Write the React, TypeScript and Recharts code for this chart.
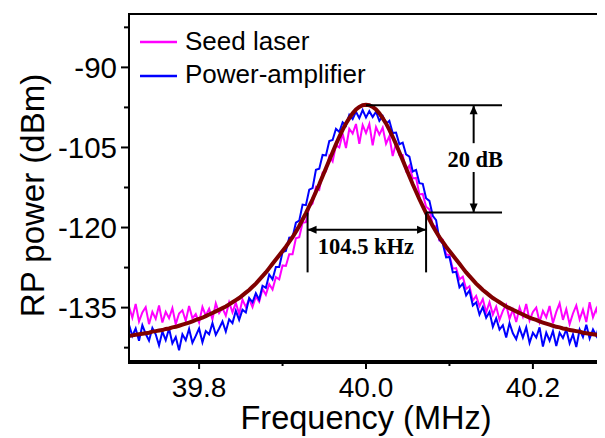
import { LineChart, Line, XAxis, YAxis, ReferenceLine, ReferenceDot } from 'recharts'

// sweep frequency (MHz)
const freq = [
  39.716, 39.72, 39.724, 39.728, 39.732, 39.736, 39.74, 39.744, 39.748, 39.752,
  39.756, 39.76, 39.764, 39.768, 39.772, 39.776, 39.78, 39.784, 39.788, 39.792,
  39.796, 39.8, 39.804, 39.808, 39.812, 39.816, 39.82, 39.824, 39.828, 39.832,
  39.836, 39.84, 39.844, 39.848, 39.852, 39.856, 39.86, 39.864, 39.868, 39.872,
  39.876, 39.88, 39.884, 39.888, 39.892, 39.896, 39.9, 39.904, 39.908, 39.912,
  39.916, 39.92, 39.924, 39.928, 39.932, 39.936, 39.94, 39.944, 39.948, 39.952,
  39.956, 39.96, 39.964, 39.968, 39.972, 39.976, 39.98, 39.984, 39.988, 39.992,
  39.996, 40.0, 40.004, 40.008, 40.012, 40.016, 40.02, 40.024, 40.028, 40.032,
  40.036, 40.04, 40.044, 40.048, 40.052, 40.056, 40.06, 40.064, 40.068, 40.072,
  40.076, 40.08, 40.084, 40.088, 40.092, 40.096, 40.1, 40.104, 40.108, 40.112,
  40.116, 40.12, 40.124, 40.128, 40.132, 40.136, 40.14, 40.144, 40.148, 40.152,
  40.156, 40.16, 40.164, 40.168, 40.172, 40.176, 40.18, 40.184, 40.188, 40.192,
  40.196, 40.2, 40.204, 40.208, 40.212, 40.216, 40.22, 40.224, 40.228, 40.232,
  40.236, 40.24, 40.244, 40.248, 40.252, 40.256, 40.26, 40.264, 40.268, 40.272,
  40.276, 40.28, 40.284,
]

const seedLaser = [
  -134.8, -136.9, -134.3, -137.6, -135.9, -134.9, -138.1, -135.8, -137.1, -134.6,
  -137.8, -135.8, -137.0, -135.1, -138.1, -136.1, -135.5, -137.5, -134.7, -137.0,
  -136.2, -137.8, -134.9, -136.5, -135.2, -137.2, -134.2, -136.0, -135.1, -136.5,
  -134.0, -135.9, -134.1, -136.2, -133.5, -134.9, -133.4, -134.9, -132.9, -133.9,
  -131.5, -132.6, -130.6, -131.6, -129.3, -129.7, -127.1, -127.2, -125.0, -125.0,
  -122.0, -121.8, -119.1, -119.0, -116.1, -115.5, -112.4, -112.9, -109.7, -109.5,
  -106.6, -107.6, -104.6, -105.0, -102.4, -105.1, -101.5, -102.4, -100.6, -104.3,
  -100.8, -102.3,
  -100.6, -104.6, -101.2, -102.6, -101.3, -104.3, -102.9, -106.6, -104.2, -106.4,
  -106.4, -109.3, -108.4, -110.8, -110.7, -113.8, -113.7, -116.1, -116.6, -119.6,
  -119.8, -122.4, -122.3, -125.0, -125.2, -127.7, -127.6, -129.7, -129.2, -131.5,
  -131.0, -133.7, -132.8, -134.7, -133.4, -135.9, -134.0, -136.3, -134.8, -137.3,
  -135.6, -134.5, -137.1, -135.4, -137.7, -135.0, -136.7, -134.3, -137.4, -135.8,
  -135.0, -137.7, -135.6, -136.8, -134.7, -137.9, -135.8, -134.2, -137.3, -135.3,
  -138.1, -136.1, -134.6, -137.2, -135.4, -137.7, -134.0, -136.8, -135.2, -137.4,
  -135.6,
]

const powerAmp = [
  -138.2, -140.3, -138.9, -141.2, -138.3, -139.9, -141.2, -138.8, -140.0, -142.1,
  -139.5, -141.1, -138.9, -141.7, -140.5, -143.0, -140.0, -141.1, -139.0, -141.6,
  -140.3, -138.9, -141.5, -139.4, -140.0, -137.9, -140.1, -138.9, -137.6, -139.5,
  -137.2, -137.9, -135.6, -137.3, -135.4, -135.9, -133.2, -134.0, -132.3, -133.5,
  -130.9, -131.3, -128.8, -129.7, -127.4, -127.4, -124.6, -124.4, -121.9, -121.8,
  -119.1, -118.7, -115.7, -115.8, -112.9, -112.6, -109.2, -109.0, -106.4, -106.5,
  -103.8, -103.6, -101.5, -102.1, -100.3, -100.9, -98.9, -99.7, -98.3, -99.5,
  -98.0, -99.4,
  -98.2, -99.3, -98.3, -100.0, -99.1, -100.6, -100.0, -102.3, -102.2, -104.4,
  -104.1, -106.3, -106.7, -109.5, -109.2, -111.7, -111.8, -114.5, -115.0, -117.8,
  -118.6, -122.3, -123.0, -125.6, -125.5, -128.4, -128.3, -131.2, -130.5, -132.7,
  -131.8, -134.6, -134.0, -136.3, -134.9, -136.9, -135.8, -138.6, -137.0, -139.1,
  -138.3, -140.6, -137.9, -139.8, -140.9, -138.8, -140.6, -138.7, -141.6, -139.7,
  -140.6, -138.7, -142.3, -139.7, -141.2, -139.4, -142.2, -139.7, -140.7, -139.1,
  -141.7, -140.0, -142.4, -139.1, -140.5, -138.2, -140.8, -139.1, -140.3, -138.0,
  -139.5,
]

const fitCurve = [
  -140.3, -140.2, -140.1, -140.0, -139.9, -139.8, -139.7, -139.5, -139.4, -139.3,
  -139.2, -139.0, -138.9, -138.7, -138.6, -138.4, -138.2, -138.0, -137.8, -137.6,
  -137.3, -137.1, -136.9, -136.6, -136.3, -136.0, -135.7, -135.4, -135.1, -134.8,
  -134.4, -134.0, -133.6, -133.2, -132.7, -132.2, -131.7, -131.1, -130.5, -129.8,
  -129.1, -128.4, -127.6, -126.8, -126.0, -125.2, -124.4, -123.6, -122.7, -121.8,
  -120.8, -119.7, -118.5, -117.3, -116.0, -114.7, -113.3, -111.9, -110.4, -108.9,
  -107.4, -105.9, -104.4, -103.0, -101.7, -100.5, -99.5, -98.6, -97.9, -97.4,
  -97.1, -97.0,
  -97.1, -97.4, -97.9, -98.6, -99.5, -100.5, -101.7, -103.0, -104.4, -105.9,
  -107.4, -108.9, -110.4, -111.9, -113.3, -114.7, -116.0, -117.3, -118.5, -119.7,
  -120.8, -121.8, -122.7, -123.6, -124.4, -125.2, -126.0, -126.8, -127.6, -128.4,
  -129.1, -129.8, -130.5, -131.1, -131.7, -132.2, -132.7, -133.2, -133.6, -134.0,
  -134.4, -134.8, -135.1, -135.4, -135.7, -136.0, -136.3, -136.6, -136.9, -137.1,
  -137.3, -137.6, -137.8, -138.0, -138.2, -138.4, -138.6, -138.7, -138.9, -139.0,
  -139.2, -139.3, -139.4, -139.5, -139.7, -139.8, -139.9, -140.0, -140.1, -140.2,
  -140.3,
]

const xDomain = [39.716, 40.284]
const yDomain = [-145, -80]
const xTicks = [39.8, 40.0, 40.2]
const xMinorTicks = [39.9, 40.1]
const yTicks = [-135, -120, -105, -90]
const yMinorTicks = [-142.5, -127.5, -112.5, -97.5, -82.5]

const legendItems = [
  { name: 'Seed laser', color: '#ff00ff' },
  { name: 'Power-amplifier', color: '#0000ff' },
]

// annotation anchors, in data units
const peakLevel = -97.1
const downLevel = -117.2
const lowEdge = 39.93
const highEdge = 40.072
const dbArrowFreq = 40.129
const bracketEnd = 40.163
const widthArrowLevel = -120.4
const edgeTickBottom = -128.4
const dbGapTop = -104.2
const dbGapBottom = -109.6

const W = 597
const H = 430
const margin = { top: 6, right: 2, bottom: 0, left: 0 }
const yAxisWidth = 121
const xAxisHeight = 77
const plotLeft = margin.left + yAxisWidth
const plotTop = margin.top
const plotRight = W - margin.right
const plotBottom = H - margin.bottom - xAxisHeight

const sans = 'Arial, "Liberation Sans", sans-serif'
const serif = '"Times New Roman", "Liberation Serif", serif'

const rows = freq.map((f, i) => ({
  f,
  seed: seedLaser[i],
  amp: powerAmp[i],
  fit: fitCurve[i],
}))

const allXTicks = [...xTicks, ...xMinorTicks].sort((a, b) => a - b)
const allYTicks = [...yTicks, ...yMinorTicks].sort((a, b) => a - b)

// tick line + label drawn together so minor ticks get short marks and no text
function XTick(props: any) {
  const { x, y, payload } = props
  const major = xTicks.some((t) => Math.abs(t - payload.value) < 1e-6)
  return (
    <g>
      <line x1={x} x2={x} y1={y} y2={y + (major ? 8 : 5)} stroke="#000" strokeWidth={2} />
      {major && (
        <text x={x} y={y + 16} dy="0.71em" textAnchor="middle" fontSize={28} fontFamily={sans} fill="#000">
          {Number(payload.value).toFixed(1)}
        </text>
      )}
    </g>
  )
}

function YTick(props: any) {
  const { x, y, payload } = props
  const major = yTicks.some((t) => Math.abs(t - payload.value) < 1e-6)
  return (
    <g>
      <line x1={x} x2={x - (major ? 8 : 5)} y1={y} y2={y} stroke="#000" strokeWidth={2} />
      {major && (
        <text x={x - 12} y={y} dy="0.355em" textAnchor="end" fontSize={29.5} fontFamily={sans} fill="#000">
          {payload.value}
        </text>
      )}
    </g>
  )
}

const arrowHead = (dir: 'up' | 'down' | 'left' | 'right') => (p: any) => {
  const { cx, cy } = p
  const L = 9
  const S = 4
  let d = ''
  if (dir === 'up') d = `M${cx},${cy} L${cx - S},${cy + L} L${cx + S},${cy + L} Z`
  if (dir === 'down') d = `M${cx},${cy} L${cx - S},${cy - L} L${cx + S},${cy - L} Z`
  if (dir === 'left') d = `M${cx},${cy} L${cx + L},${cy - S} L${cx + L},${cy + S} Z`
  if (dir === 'right') d = `M${cx},${cy} L${cx - L},${cy - S} L${cx - L},${cy + S} Z`
  return <path d={d} fill="#000" />
}

const annoText = (value: string) => (p: any) => (
  <text
    x={p.cx}
    y={p.cy}
    textAnchor="middle"
    dominantBaseline="central"
    fontFamily={serif}
    fontWeight="bold"
    fontSize={22.5}
    fill="#000"
  >
    {value}
  </text>
)

const axisLine = { stroke: '#000', strokeWidth: 2 }

export default function App() {
  return (
    <div style={{ position: 'relative', width: W, height: H }}>
      <LineChart width={W} height={H} data={rows} margin={margin}>
        <XAxis
          dataKey="f"
          type="number"
          domain={xDomain}
          allowDataOverflow
          ticks={allXTicks}
          interval={0}
          height={xAxisHeight}
          axisLine={axisLine}
          tickLine={false}
          tickSize={0}
          tickMargin={0}
          tick={<XTick />}
          label={{
            content: (props: any) => {
              const vb = props.viewBox
              return (
                <text
                  x={vb.x + vb.width / 2}
                  y={vb.y + vb.height - 9}
                  textAnchor="middle"
                  fontFamily={sans}
                  fontSize={32.5}
                  fill="#000"
                >
                  Frequency (MHz)
                </text>
              )
            },
          }}
        />
        <YAxis
          type="number"
          domain={yDomain}
          allowDataOverflow
          ticks={allYTicks}
          interval={0}
          width={yAxisWidth}
          axisLine={axisLine}
          tickLine={false}
          tickSize={0}
          tickMargin={0}
          tick={<YTick />}
          label={{
            content: (props: any) => {
              const vb = props.viewBox
              const cx = vb.x + 36
              const cy = vb.y + vb.height / 2 + 8
              return (
                <text
                  x={cx}
                  y={cy}
                  transform={`rotate(-90, ${cx}, ${cy})`}
                  textAnchor="middle"
                  fontFamily={sans}
                  fontSize={33}
                  fill="#000"
                >
                  RP power (dBm)
                </text>
              )
            },
          }}
        />

        <Line
          dataKey="seed"
          stroke="#ff00ff"
          strokeWidth={2}
          dot={false}
          isAnimationActive={false}
        />
        <Line
          dataKey="amp"
          stroke="#0000ff"
          strokeWidth={2}
          dot={false}
          isAnimationActive={false}
        />
        <Line
          dataKey="fit"
          stroke="#800000"
          strokeWidth={4}
          dot={false}
          isAnimationActive={false}
        />

        {/* 20 dB bracket */}
        <ReferenceLine
          segment={[{ x: 40.0, y: peakLevel }, { x: bracketEnd, y: peakLevel }]}
          stroke="#000"
          strokeWidth={2}
        />
        <ReferenceLine
          segment={[{ x: highEdge, y: downLevel }, { x: bracketEnd, y: downLevel }]}
          stroke="#000"
          strokeWidth={2}
        />
        <ReferenceLine
          segment={[{ x: dbArrowFreq, y: peakLevel }, { x: dbArrowFreq, y: dbGapTop }]}
          stroke="#000"
          strokeWidth={2}
        />
        <ReferenceLine
          segment={[{ x: dbArrowFreq, y: dbGapBottom }, { x: dbArrowFreq, y: downLevel }]}
          stroke="#000"
          strokeWidth={2}
        />
        <ReferenceDot x={dbArrowFreq} y={peakLevel} r={0} shape={arrowHead('up')} />
        <ReferenceDot x={dbArrowFreq} y={downLevel} r={0} shape={arrowHead('down')} />
        <ReferenceDot x={40.131} y={-107.2} r={0} shape={annoText('20 dB')} />

        {/* linewidth bracket */}
        <ReferenceLine
          segment={[{ x: lowEdge, y: downLevel }, { x: lowEdge, y: edgeTickBottom }]}
          stroke="#000"
          strokeWidth={2}
        />
        <ReferenceLine
          segment={[{ x: highEdge, y: downLevel }, { x: highEdge, y: edgeTickBottom }]}
          stroke="#000"
          strokeWidth={2}
        />
        <ReferenceLine
          segment={[{ x: lowEdge, y: widthArrowLevel }, { x: highEdge, y: widthArrowLevel }]}
          stroke="#000"
          strokeWidth={2}
        />
        <ReferenceDot x={lowEdge} y={widthArrowLevel} r={0} shape={arrowHead('left')} />
        <ReferenceDot x={highEdge} y={widthArrowLevel} r={0} shape={arrowHead('right')} />
        <ReferenceDot x={40.0} y={-123.6} r={0} shape={annoText('104.5 kHz')} />
      </LineChart>

      {/* plot frame as a bordered box laid over the plot area */}
      <div
        style={{
          position: 'absolute',
          left: plotLeft - 1,
          top: plotTop - 1,
          width: plotRight - plotLeft,
          height: plotBottom - plotTop,
          border: '2px solid #000',
          boxSizing: 'content-box',
          pointerEvents: 'none',
        }}
      />

      <svg
        width={W}
        height={H}
        style={{ position: 'absolute', left: 0, top: 0, pointerEvents: 'none' }}
      >
        {legendItems.map((item, i) => (
          <g key={item.name}>
            <line
              x1={132}
              x2={169}
              y1={34 + i * 34}
              y2={34 + i * 34}
              stroke={item.color}
              strokeWidth={2.5}
            />
            <text x={177} y={42 + i * 33} fontFamily={sans} fontSize={26} fill="#000">
              {item.name}
            </text>
          </g>
        ))}
      </svg>
    </div>
  )
}
